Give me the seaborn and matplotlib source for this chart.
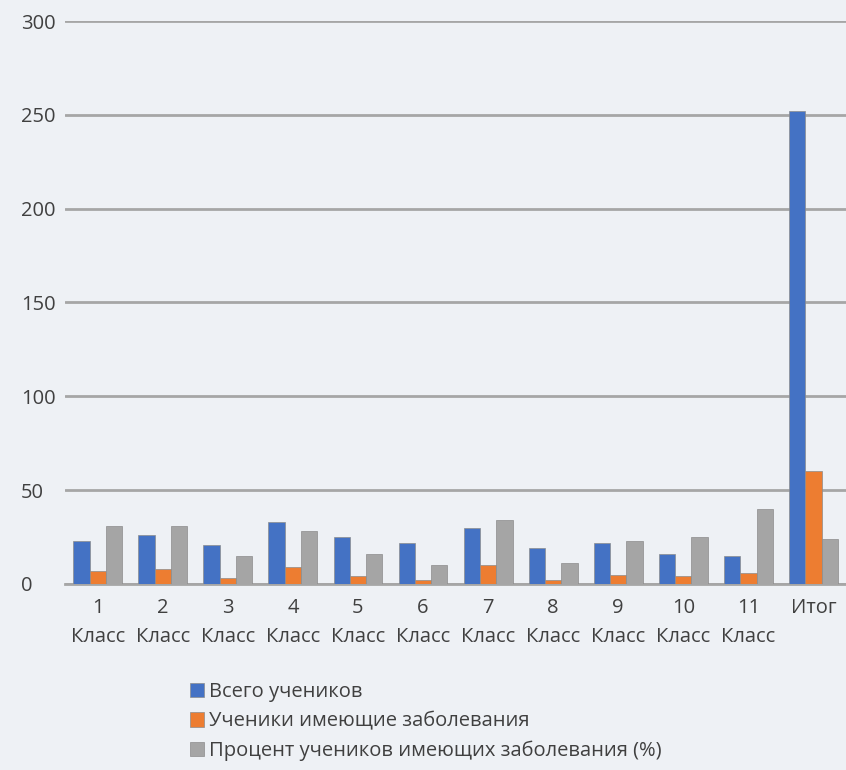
import seaborn as sns
import pandas as pd
import matplotlib.pyplot as plt

# --- data ---
categories = ['1\nКласс', '2\nКласс', '3\nКласс', '4\nКласс', '5\nКласс', '6\nКласс',
              '7\nКласс', '8\nКласс', '9\nКласс', '10\nКласс', '11\nКласс', 'Итог']
total_students = [23, 26, 21, 33, 25, 22, 30, 19, 22, 16, 15, 252]
sick_students = [7, 8, 3, 9, 4, 2, 10, 2, 5, 4, 6, 60]
sick_percent = [31, 31, 15, 28, 16, 10, 34, 11, 23, 25, 40, 24]
series_names = ['Всего учеников', 'Ученики имеющие заболевания',
                'Процент учеников имеющих заболевания (%)']
yticks = [0, 50, 100, 150, 200, 250, 300]

df = pd.DataFrame({'cat': categories * 3,
                   'value': total_students + sick_students + sick_percent,
                   'series': [series_names[0]] * 12 + [series_names[1]] * 12 + [series_names[2]] * 12})

sns.set_style('white')
plt.rcParams['font.family'] = ['Open Sans', 'DejaVu Sans']

bg = '#eef1f5'
txt = '#404040'
fig = plt.figure(figsize=(8.46, 7.70), dpi=100, facecolor=bg)
ax = fig.add_axes([0.077, 0.2416, 0.923, 0.7311], facecolor=bg)

palette = ['#4472C4', '#ED7D31', '#A5A5A5']
sns.barplot(data=df, x='cat', y='value', hue='series', palette=palette,
            width=0.75, saturation=1, edgecolor='#8c8c8c', linewidth=0.5,
            ax=ax, zorder=3)

ax.set_ylim(0, 300)
ax.set_yticks(yticks)
ax.yaxis.grid(True, color='#a6a6a6', linewidth=2, zorder=0)
ax.set_axisbelow(True)
for s in ['top', 'right', 'left']:
    ax.spines[s].set_visible(False)
ax.spines['bottom'].set_color('#a6a6a6')
ax.spines['bottom'].set_linewidth(2)
ax.tick_params(axis='both', length=0, labelsize=14.5, colors=txt)
ax.tick_params(axis='x', pad=10)
ax.tick_params(axis='y', pad=32)
for lab in ax.get_yticklabels():
    lab.set_horizontalalignment('left')
for lab in ax.get_xticklabels():
    lab.set_linespacing(1.6)
ax.set_xlabel('')
ax.set_ylabel('')
ax.set_xlim(-0.5, 11.5)

leg = ax.legend(loc='upper left', bbox_to_anchor=(0.16, -0.175), frameon=False,
                fontsize=14.5, handlelength=0.7, handleheight=0.7, handletextpad=0.25,
                labelspacing=0.45, borderaxespad=0, borderpad=0)
for t in leg.get_texts():
    t.set_color(txt)

plt.savefig('out.png', dpi=100, facecolor=bg)
